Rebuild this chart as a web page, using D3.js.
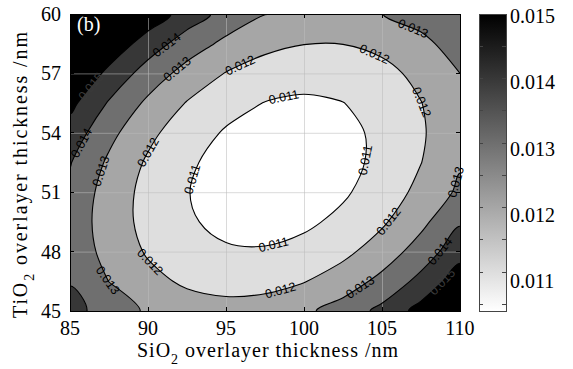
<!DOCTYPE html>
<meta charset="utf-8">
<style>
    body {
        margin: 0;
        background-color: #ffffff;
    }

    .tick-label,
    .title {
        font-family: "Liberation Serif", serif;
        font-size: 20px;
        fill: #000;
    }

    .clabel {
        font-family: "Liberation Sans", sans-serif;
        font-size: 12.5px;
    }
</style>
<svg width="573" height="369"></svg>

<body>
    <script src="https://d3js.org/d3.v7.min.js"></script>
    <script>
        // SiO2 thickness (columns) and TiO2 thickness (rows) of the sampled grid
        var xVals = [85, 87.5, 90, 92.5, 95, 97.5, 100, 102.5, 105, 107.5, 110];
        var yVals = [45, 46.5, 48, 49.5, 51, 52.5, 54, 55.5, 57, 58.5, 60];

        // values, one row per TiO2 value (bottom row first)
        var loss = [
            [0.014382, 0.013505, 0.012874, 0.012489, 0.012351, 0.012459, 0.012812, 0.013413, 0.014259, 0.015352, 0.016691],
            [0.013933, 0.012988, 0.012289, 0.011837, 0.011631, 0.011671, 0.011958, 0.012490, 0.013269, 0.014295, 0.015566],
            [0.013675, 0.012662, 0.011896, 0.011377, 0.011103, 0.011076, 0.011295, 0.011760, 0.012471, 0.013429, 0.014633],
            [0.013608, 0.012529, 0.011695, 0.011108, 0.010767, 0.010672, 0.010823, 0.011221, 0.011865, 0.012755, 0.013892],
            [0.013734, 0.012586, 0.011685, 0.011031, 0.010622, 0.010460, 0.010544, 0.010874, 0.011450, 0.012273, 0.013180],
            [0.014051, 0.012836, 0.011867, 0.011145, 0.010669, 0.010439, 0.010456, 0.010719, 0.011227, 0.011983, 0.012900],
            [0.014559, 0.013277, 0.012241, 0.011451, 0.010908, 0.010611, 0.010560, 0.010755, 0.011196, 0.011884, 0.012750],
            [0.015260, 0.013910, 0.012807, 0.011949, 0.011338, 0.010974, 0.010855, 0.010983, 0.011357, 0.011977, 0.012780],
            [0.016152, 0.014735, 0.013564, 0.012639, 0.011960, 0.011528, 0.011342, 0.011402, 0.011709, 0.012262, 0.013000],
            [0.017236, 0.015751, 0.014513, 0.013520, 0.012774, 0.012275, 0.012021, 0.012014, 0.012253, 0.012738, 0.013469],
            [0.018512, 0.016959, 0.015653, 0.014550, 0.013650, 0.013020, 0.012892, 0.012817, 0.012988, 0.013406, 0.013900]
        ];

        var levels = [0.011, 0.012, 0.013, 0.014, 0.015];
        var xTicks = [85, 90, 95, 100, 105, 110];
        var yTicks = [45, 48, 51, 54, 57, 60];
        var cbDomain = [0.0104, 0.015];
        var cbTicks = [0.0105, 0.011, 0.0115, 0.012, 0.0125, 0.013, 0.0135, 0.014, 0.0145, 0.015];
        var cbLabels = [0.011, 0.012, 0.013, 0.014, 0.015];

        // where clabel put its numbers: [level, SiO2, TiO2]
        var labelSpots = [
            [0.011, 98.7, 55.8], [0.011, 93.0, 51.6], [0.011, 104.0, 52.6], [0.011, 98.0, 48.4],
            [0.012, 95.9, 57.4], [0.012, 90.1, 53.0], [0.012, 89.8, 47.2], [0.012, 104.4, 57.8],
            [0.012, 107.4, 55.5], [0.012, 105.6, 49.4], [0.012, 98.5, 46.1],
            [0.013, 92.2, 56.9], [0.013, 86.9, 52.1], [0.013, 87.1, 46.4], [0.013, 107.0, 59.3],
            [0.013, 109.4, 51.6], [0.013, 103.6, 46.2],
            [0.014, 91.0, 58.6], [0.014, 85.5, 53.6], [0.014, 109.0, 47.8],
            [0.015, 86.2, 56.4], [0.015, 108.7, 46.6]
        ];

        var svg = d3.select("svg"),
            margin = {
                top: 14,
                right: 113,
                bottom: 58,
                left: 70
            },
            width = +svg.attr("width") - margin.left - margin.right,
            height = +svg.attr("height") - margin.top - margin.bottom;

        var x = d3.scaleLinear().domain([85, 110]).range([margin.left, margin.left + width]),
            y = d3.scaleLinear().domain([45, 60]).range([margin.top + height, margin.top]);

        var shade = d3.scaleLinear().domain(cbDomain).range(["#ffffff", "#000000"]).clamp(true);

        var nx = xVals.length,
            ny = yVals.length,
            xStep = xVals[1] - xVals[0],
            yStep = yVals[1] - yVals[0];

        var contours = d3.contours()
            .size([nx, ny])
            .thresholds(levels)(d3.merge(loss));

        var smooth = d3.line().curve(d3.curveCatmullRomClosed.alpha(0.5));

        function ringPath(ring) {
            var pts = ring.slice(0, -1).map(function (p) {
                return [x(xVals[0] + (p[0] - 0.5) * xStep), y(yVals[0] + (p[1] - 0.5) * yStep)];
            });
            return smooth(pts);
        }

        function multiPath(d) {
            return d.coordinates.map(function (poly) {
                return poly.map(ringPath).join("");
            }).join("");
        }

        svg.append("clipPath")
            .attr("id", "plot-clip")
            .append("rect")
            .attr("x", margin.left)
            .attr("y", margin.top)
            .attr("width", width)
            .attr("height", height);

        var plot = svg.append("g").attr("clip-path", "url(#plot-clip)");

        plot.append("rect")
            .attr("x", margin.left)
            .attr("y", margin.top)
            .attr("width", width)
            .attr("height", height)
            .attr("fill", shade(cbDomain[0]));

        plot.selectAll(".band")
            .data(contours)
            .enter().append("path")
            .attr("class", "band")
            .attr("d", multiPath)
            .attr("fill-rule", "evenodd")
            .attr("fill", function (d) {
                return shade(d.value);
            });

        // grid
        plot.selectAll(".vgrid")
            .data(xTicks.slice(1, -1))
            .enter().append("line")
            .attr("x1", function (d) { return x(d) + 0.5; })
            .attr("x2", function (d) { return x(d) + 0.5; })
            .attr("y1", margin.top)
            .attr("y2", margin.top + height)
            .attr("stroke", "#bbbbbb")
            .attr("stroke-opacity", 0.55);

        plot.selectAll(".hgrid")
            .data(yTicks.slice(1, -1))
            .enter().append("line")
            .attr("y1", function (d) { return y(d) + 0.5; })
            .attr("y2", function (d) { return y(d) + 0.5; })
            .attr("x1", margin.left)
            .attr("x2", margin.left + width)
            .attr("stroke", "#bbbbbb")
            .attr("stroke-opacity", 0.55);

        var lines = plot.selectAll(".cline")
            .data(contours)
            .enter().append("path")
            .attr("class", "cline")
            .attr("d", multiPath)
            .attr("fill", "none")
            .attr("stroke", "#000")
            .attr("stroke-width", 1.1);

        var lineNode = {};
        lines.each(function (d) {
            lineNode[d.value] = this;
        });

        // contour labels, snapped onto the drawn line and turned along it
        var fmt = d3.format(".3f");
        labelSpots.forEach(function (s) {
            var node = lineNode[s[0]],
                tx = x(s[1]),
                ty = y(s[2]),
                total = node.getTotalLength(),
                best = 0,
                bestD = Infinity;
            for (var l = 0; l < total; l += 1) {
                var p = node.getPointAtLength(l);
                if (p.x < margin.left + 3 || p.x > margin.left + width - 3 ||
                    p.y < margin.top + 3 || p.y > margin.top + height - 3) continue;
                var dd = (p.x - tx) * (p.x - tx) + (p.y - ty) * (p.y - ty);
                if (dd < bestD) {
                    bestD = dd;
                    best = l;
                }
            }
            var a = node.getPointAtLength(Math.max(0, best - 6)),
                b = node.getPointAtLength(Math.min(total, best + 6)),
                c = node.getPointAtLength(best);
            var ang = Math.atan2(b.y - a.y, b.x - a.x) * 180 / Math.PI;
            if (ang > 90) ang -= 180;
            if (ang < -90) ang += 180;
            svg.append("text")
                .attr("class", "clabel")
                .attr("transform", "translate(" + c.x + "," + c.y + ") rotate(" + ang + ")")
                .attr("text-anchor", "middle")
                .attr("dy", "0.35em")
                .attr("fill", s[0] >= 0.015 ? "#3a3a3a" : "#000")
                .text(fmt(s[0]));
        });

        // frame and ticks
        var axes = svg.append("g").attr("stroke", "#000").attr("shape-rendering", "crispEdges");
        axes.append("rect")
            .attr("x", margin.left)
            .attr("y", margin.top)
            .attr("width", width)
            .attr("height", height)
            .attr("fill", "none");

        xTicks.forEach(function (t) {
            axes.append("line").attr("x1", x(t)).attr("x2", x(t))
                .attr("y1", margin.top + height).attr("y2", margin.top + height - 4);
            axes.append("line").attr("x1", x(t)).attr("x2", x(t))
                .attr("y1", margin.top).attr("y2", margin.top + 4);
        });
        yTicks.forEach(function (t) {
            axes.append("line").attr("y1", y(t)).attr("y2", y(t))
                .attr("x1", margin.left).attr("x2", margin.left + 4);
            axes.append("line").attr("y1", y(t)).attr("y2", y(t))
                .attr("x1", margin.left + width).attr("x2", margin.left + width - 4);
        });

        svg.selectAll(".xlab")
            .data(xTicks)
            .enter().append("text")
            .attr("class", "tick-label")
            .attr("x", function (d) { return x(d); })
            .attr("y", 335)
            .attr("text-anchor", "middle")
            .text(function (d) { return d; });

        svg.selectAll(".ylab")
            .data(yTicks)
            .enter().append("text")
            .attr("class", "tick-label")
            .attr("x", 61)
            .attr("y", function (d) { return y(d) + 7; })
            .attr("text-anchor", "end")
            .text(function (d) { return d; });

        // axis titles
        var xt = svg.append("text")
            .attr("class", "title")
            .attr("x", 137)
            .attr("y", 357)
            .attr("textLength", 261)
            .attr("lengthAdjust", "spacing");
        xt.append("tspan").text("SiO");
        xt.append("tspan").attr("dy", 7).attr("font-size", 14).text("2");
        xt.append("tspan").attr("dy", -7).text(" overlayer thickness /nm");

        var yt = svg.append("text")
            .attr("class", "title")
            .attr("transform", "translate(27,318) rotate(-90)")
            .attr("x", 0)
            .attr("y", 0)
            .attr("textLength", 286)
            .attr("lengthAdjust", "spacing");
        yt.append("tspan").text("TiO");
        yt.append("tspan").attr("dy", 7).attr("font-size", 14).text("2");
        yt.append("tspan").attr("dy", -7).text(" overlayer thickness /nm");

        svg.append("text")
            .attr("class", "title")
            .attr("x", 77)
            .attr("y", 31)
            .style("fill", "#fff")
            .text("(b)");

        // colorbar
        var cbX = 479,
            cbW = 27;
        var cb = d3.scaleLinear().domain(cbDomain).range([margin.top + height, margin.top]);

        var grad = svg.append("defs").append("linearGradient")
            .attr("id", "cb-grad")
            .attr("x1", 0).attr("y1", 1).attr("x2", 0).attr("y2", 0);
        grad.append("stop").attr("offset", 0).attr("stop-color", shade(cbDomain[0]));
        grad.append("stop").attr("offset", 1).attr("stop-color", shade(cbDomain[1]));

        svg.append("rect")
            .attr("x", cbX)
            .attr("y", cb(cbDomain[1]))
            .attr("width", cbW)
            .attr("height", cb(cbDomain[0]) - cb(cbDomain[1]))
            .attr("fill", "url(#cb-grad)")
            .attr("stroke", "#444")
            .attr("shape-rendering", "crispEdges");

        var cbAxis = svg.append("g").attr("stroke", "#444").attr("shape-rendering", "crispEdges");
        cbTicks.forEach(function (t) {
            cbAxis.append("line").attr("x1", cbX).attr("x2", cbX + 4)
                .attr("y1", cb(t)).attr("y2", cb(t));
            cbAxis.append("line").attr("x1", cbX + cbW).attr("x2", cbX + cbW - 4)
                .attr("y1", cb(t)).attr("y2", cb(t));
        });

        // the labels drift a little low in the original figure
        svg.selectAll(".cblab")
            .data(cbLabels)
            .enter().append("text")
            .attr("class", "tick-label")
            .attr("x", 510)
            .attr("y", function (d) { return cb(d) + 9 + (0.015 - d) * 1700; })
            .text(function (d) { return fmt(d); });
    </script>
</body>
